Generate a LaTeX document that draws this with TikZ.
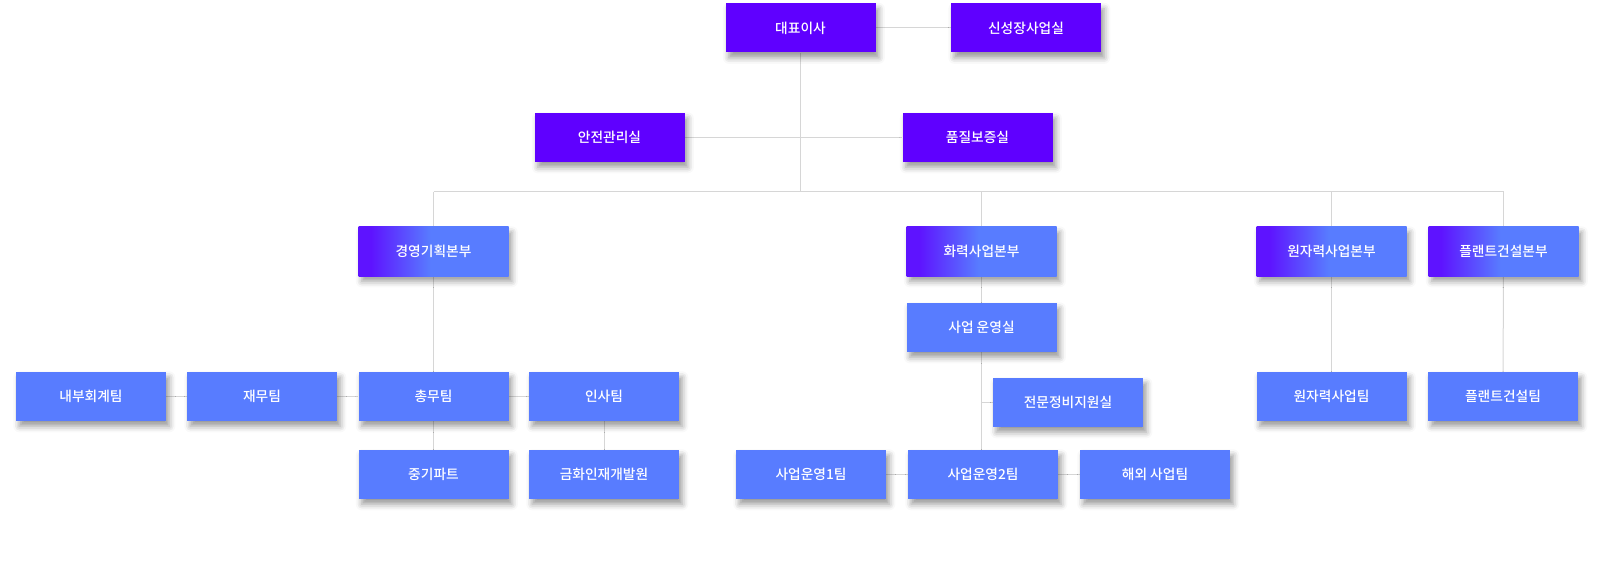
\documentclass[tikz,border=0pt]{standalone}
\usepackage{fontspec}
\newfontfamily\cjk{Noto Sans CJK KR}[UprightFont={* Medium}]
\usepackage{tikz}
\usetikzlibrary{positioning,shadows.blur,backgrounds}

\definecolor{violetbox}{HTML}{5F00FF}
\definecolor{bluebox}{HTML}{587CFF}
\definecolor{linegray}{HTML}{D6D6D6}
\pgfdeclarehorizontalshading{deptshade}{100bp}{color(0bp)=(violetbox!85!bluebox); color(29bp)=(violetbox!85!bluebox); color(49bp)=(bluebox); color(100bp)=(bluebox)}

\tikzset{
  unit/.style={minimum width=112.5pt, minimum height=36.75pt, inner sep=0pt, text=white,
    font=\cjk\fontsize{10.3}{12}\selectfont,
    blur shadow={shadow xshift=2.5pt, shadow yshift=-4pt, shadow blur radius=4.5pt, shadow opacity=40}},
  office/.style={unit, fill=violetbox},
  dept/.style={unit, shade, shading=deptshade},
  team/.style={unit, fill=bluebox},
  link/.style={draw=linegray, line width=0.75pt}
}

\begin{document}
\begin{tikzpicture}[x=0.75pt,y=0.75pt,yscale=-1,xscale=1]
\path (0,0) rectangle (1600,563); %set diagram to 1600 x 563

% top offices
\node[office] (ceo) at (800.5,28) {대표이사};
\node[office] (newbiz) at (1026,28) {신성장사업실};
\node[office] (safety) at (609.5,137.5) {안전관리실};
\node[office] (quality) at (977.5,137.5) {품질보증실};

% divisions
\node[dept] (mgmt) at (433.5,251.5) {경영기획본부};
\node[dept] (thermal) at (981.5,251.5) {화력사업본부};
\node[dept] (nuclear) at (1331.5,251.5) {원자력사업본부};
\node[dept] (plant) at (1503.5,251.5) {플랜트건설본부};

% teams
\node[team] (bizops) at (981.5,327.5) {사업 운영실};
\node[team] (audit) at (91,396.5) {내부회계팀};
\node[team] (finance) at (262,396.5) {재무팀};
\node[team] (general) at (433.5,396.5) {총무팀};
\node[team] (hr) at (604,396.5) {인사팀};
\node[team] (midpart) at (433.5,474.5) {중기파트};
\node[team] (talent) at (604,474.5) {금화인재개발원};
\node[team] (maint) at (1068,402.5) {전문정비지원실};
\node[team] (ops1) at (811,474.5) {사업운영1팀};
\node[team] (ops2) at (983,474.5) {사업운영2팀};
\node[team] (overseas) at (1155,474.5) {해외 사업팀};
\node[team] (nuclearteam) at (1331.5,396.5) {원자력사업팀};
\node[team] (plantteam) at (1503,396.5) {플랜트건설팀};

\coordinate (bus) at (0,192);

\begin{scope}[on background layer]
\draw[link] (ceo) -- (newbiz);
\draw[link] (safety) -- (quality);
\draw[link] (ceo) -- (ceo |- bus);
\draw[link] (mgmt |- bus) -- (plant |- bus);
\foreach \d in {mgmt,thermal,nuclear,plant}
  \draw[link] (\d |- bus) -- (\d);
\draw[link] (mgmt) -- (general) -- (midpart);
\draw[link] (hr) -- (talent);
\draw[link] (audit) -- (finance) -- (general) -- (hr);
\draw[link] (thermal) -- (thermal |- ops2.north);
\draw[link] (maint.west -| thermal) -- (maint.west);
\draw[link] (ops1) -- (ops2) -- (overseas);
\draw[link] (nuclear) -- (nuclearteam);
\draw[link] (plant) -- (plantteam);
\end{scope}

\end{tikzpicture}
\end{document}
